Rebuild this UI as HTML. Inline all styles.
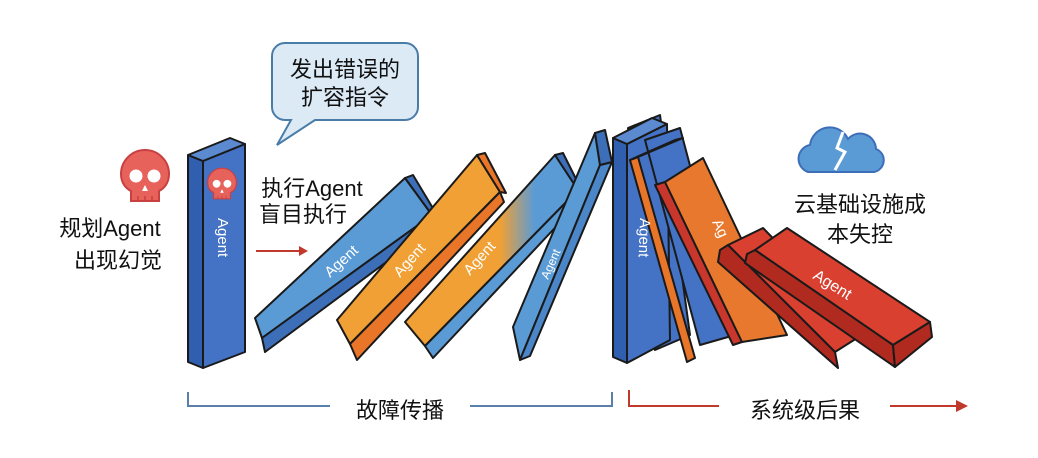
<!DOCTYPE html>
<html><head><meta charset="utf-8"><style>
html,body{margin:0;padding:0;background:#fff;}
svg{display:block;font-family:"Liberation Sans","Noto Sans CJK SC",sans-serif;}
</style></head><body>
<svg width="1038" height="458" viewBox="0 0 1038 458" xmlns="http://www.w3.org/2000/svg">
<defs>
<linearGradient id="g4" x1="0" y1="0" x2="1" y2="0">
<stop offset="0" stop-color="#f0a035"/><stop offset="0.55" stop-color="#f0a035"/><stop offset="0.75" stop-color="#5b9bd5"/><stop offset="1" stop-color="#5b9bd5"/></linearGradient>
<g id="skull">
<path d="M-24,-4 a24,24 0 1,1 48,0 c0,10 -6,15 -10,17 v10 h-28 v-10 c-4,-2 -10,-7 -10,-17z" fill="#e8625c" stroke="#c94040" stroke-width="2"/>
<circle cx="-9" cy="-2" r="6.5" fill="#fff"/><circle cx="9" cy="-2" r="6.5" fill="#fff"/>
<path d="M0,7 l-3,6 h6z" fill="#fff"/>
<path d="M-7,18 v5 M0,18 v5 M7,18 v5" stroke="#c94040" stroke-width="1.5"/>
</g>
</defs>
<g stroke="#1a1a1a" stroke-width="2" stroke-linejoin="round">
<polygon points="188,155 203,161 203,368 188,362" fill="#2f5fae"/>
<polygon points="203,161 245,144 245,352 203,368" fill="#4472c4"/>
<polygon points="188,155 230,138 245,144 203,161" fill="#5b8ad0"/>
<polygon points="255,318 405,178 432,215 262,338" fill="#5b9bd5"/>
<polygon points="262,338 432,215 435,226 265,352" fill="#3d6fb8"/>
<polygon points="405,178 413,175 437,215 432,215" fill="#3d6fb8"/>
<polygon points="337,320 477,155 500,192 350,344" fill="#f0a035"/>
<polygon points="350,344 500,192 504,202 357,360" fill="#e87528"/>
<polygon points="477,155 485,153 506,193 500,192" fill="#e87528"/>
<polygon points="405,322 555,155 578,190 425,346" fill="url(#g4)"/>
<polygon points="425,346 578,190 581,200 433,358" fill="#5b9bd5"/>
<polygon points="555,155 563,153 582,191 578,190" fill="#3d6fb8"/>
<polygon points="513,327 595,133 600,165 520,360" fill="#5b9bd5"/>
<polygon points="520,360 600,165 612,162 530,356" fill="#4a86c8"/>
<polygon points="595,133 605,130 612,162 600,165" fill="#3d6fb8"/>
<polygon points="628,128 660,115 690,335 655,350" fill="#4472c4"/>
<polygon points="613,138 627,144 627,363 613,357" fill="#2f5fae"/>
<polygon points="627,144 667,124 670,340 627,363" fill="#4472c4"/>
<polygon points="613,138 652,118 667,124 627,144" fill="#5b8ad0"/>
<polygon points="645,140 680,128 735,335 700,345" fill="#4472c4"/>
<polygon points="630,160 638,157 695,358 687,362" fill="#e87528"/>
<polygon points="630,160 675,140 683,138 638,157" fill="#f0a035"/>
<polygon points="655,185 665,182 742,342 733,345" fill="#c9372c"/>
<polygon points="665,182 703,158 787,335 742,342" fill="#e8782e"/>
<!-- red slab 10 -->
<polygon points="728,245 763,228 865,333 835,352" fill="#d94030"/>
<polygon points="720,250 728,245 835,352 838,368 718,262" fill="#b02a20"/>
<!-- red slab 11 -->
<polygon points="755,250 787,228 930,322 893,345" fill="#d94030"/>
<polygon points="747,254 755,250 893,345 895,367 745,263" fill="#b02a20"/>
<polygon points="893,345 930,322 932,337 895,367" fill="#b02a20"/>
</g>
<g fill="#fff" font-size="15">
<text transform="translate(218,218) rotate(90)">Agent</text>
<text transform="translate(330,278) rotate(-42)">Agent</text>
<text transform="translate(400,278) rotate(-48)">Agent</text>
<text transform="translate(470,276) rotate(-48)">Agent</text>
<text transform="translate(548,280) rotate(-66)" font-size="12">Agent</text>
<text transform="translate(640,218) rotate(92)">Agent</text>
<text transform="translate(712,222) rotate(65)">Ag</text>
<text transform="translate(812,278) rotate(32)" font-size="16">Agent</text>
</g>
<use href="#skull" transform="translate(145,178)"/>
<use href="#skull" transform="translate(222,185) scale(0.6)"/>
<path d="M285,43 h120 a13,13 0 0 1 13,13 v51 a13,13 0 0 1 -13,13 h-90 l-38,25 l14,-25 h-6 a13,13 0 0 1 -13,-13 v-51 a13,13 0 0 1 13,-13z" fill="#dbeaf5" stroke="#4a7ca8" stroke-width="2"/>
<g font-size="22" fill="#111" text-anchor="middle">
<text x="345" y="77">发出错误的</text>
<text x="345" y="105">扩容指令</text>
<text x="110" y="236">规划Agent</text>
<text x="118" y="268">出现幻觉</text>
<text x="312" y="196">执行Agent</text>
<text x="303" y="222">盲目执行</text>
<text x="860" y="212">云基础设施成</text>
<text x="860" y="242">本失控</text>
<text x="400" y="418">故障传播</text>
<text x="805" y="418">系统级后果</text>
</g>
<path d="M256,251 h46" stroke="#c0392b" stroke-width="2"/>
<path d="M308,251 l-9,-5 v10z" fill="#c0392b"/>
<path d="M808,172 a14,14 0 0 1 2,-27 a20,20 0 0 1 38,-6 a16,16 0 0 1 28,10 a12,12 0 0 1 -2,23z" fill="#5b9bd5" stroke="#3d6fb8" stroke-width="2"/>
<path d="M843,132 l-6,16 l8,4 l-10,18" stroke="#fff" stroke-width="3" fill="none"/>
<path d="M188,392 v14 h142 M470,406 h142 v-14" stroke="#5a7fa8" stroke-width="2" fill="none"/>
<path d="M629,390 v16 h90 M890,406 h66" stroke="#c0392b" stroke-width="2" fill="none"/>
<path d="M968,406 l-12,-6 v12z" fill="#c0392b"/>
</svg>
</body></html>
